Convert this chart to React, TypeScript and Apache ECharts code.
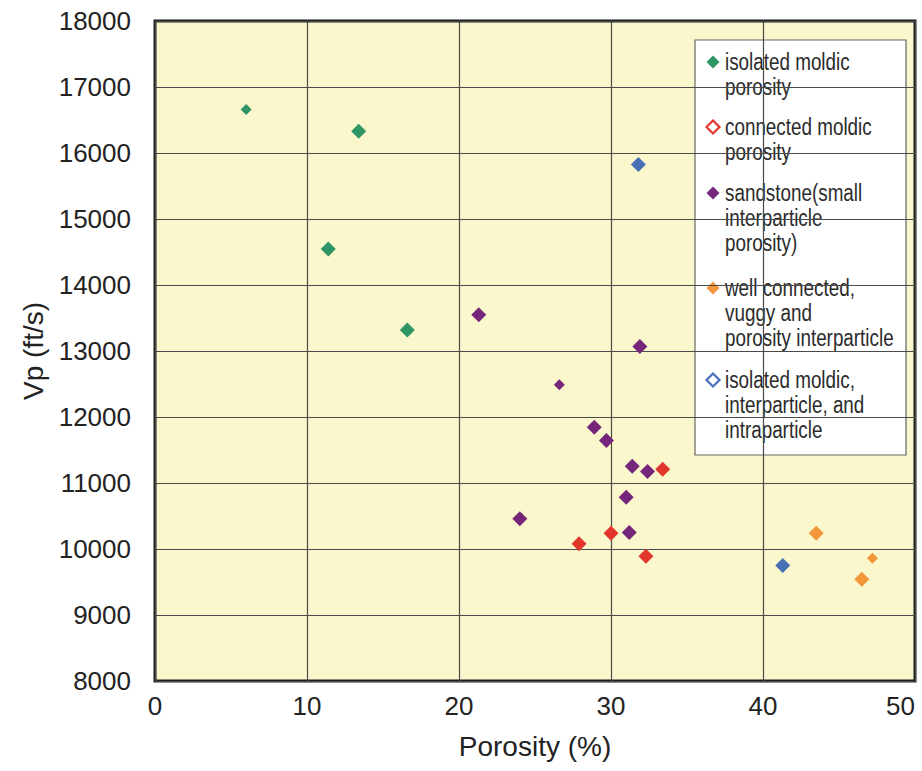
import React, { useEffect, useRef } from "react";
import * as echarts from "echarts";

const seriesNames = [
  "isolated moldic\nporosity",
  "connected moldic\nporosity",
  "sandstone(small\ninterparticle\nporosity)",
  "well connected,\nvuggy and\nporosity interparticle",
  "isolated moldic,\ninterparticle, and\nintraparticle",
];

const isolatedMoldic = [[6.0, 16660], [13.4, 16330], [11.4, 14545], [16.6, 13320]];
const connectedMoldic = [[33.4, 11210], [30.0, 10240], [27.9, 10080], [32.3, 9890]];
const sandstone = [
  [21.3, 13550], [26.6, 12490], [31.9, 13070], [28.9, 11845], [29.7, 11645],
  [31.4, 11255], [32.4, 11175], [31.0, 10785], [24.0, 10460], [31.2, 10250],
];
const wellConnected = [[43.5, 10240], [47.2, 9860], [46.5, 9540]];
const isolatedMixed = [[31.8, 15825], [41.3, 9750]];

const xTicks = [0, 10, 20, 30, 40, 50];
const yTicks = [8000, 9000, 10000, 11000, 12000, 13000, 14000, 15000, 16000, 17000, 18000];

const colors = ["#2E9565", "#E2362D", "#76267A", "#F2963A", "#4870B6"];
const hollowInLegend = [false, true, false, false, true];
const markerSizes = [
  [11, 15, 15, 15],
  [15, 15, 15, 15],
  [15, 11, 15, 15, 15, 15, 15, 15, 15, 15],
  [15, 11, 15],
  [15, 15],
];
const allData = [isolatedMoldic, connectedMoldic, sandstone, wellConnected, isolatedMixed];

export default function App() {
  const ref = useRef<HTMLDivElement>(null);
  useEffect(() => {
    if (!ref.current) return;
    const chart = echarts.init(ref.current, null, { renderer: "svg" });
    const font = "'Liberation Sans', Arial, Helvetica, sans-serif";

    const lineH = 25;
    const legendFirstLines = [62, 127, 193, 288, 380];
    const legendChildren: any[] = [
      {
        type: "rect",
        shape: { x: 695, y: 40, width: 211, height: 415 },
        style: { fill: "#ffffff", stroke: "#666666", lineWidth: 1.2 },
      },
    ];
    seriesNames.forEach((name, i) => {
      const cy = legendFirstLines[i];
      const cx = 713;
      const r = 6.5;
      legendChildren.push({
        type: "polygon",
        shape: { points: [[cx, cy - r], [cx + r, cy], [cx, cy + r], [cx - r, cy]] },
        style: hollowInLegend[i]
          ? { fill: "#ffffff", stroke: colors[i], lineWidth: 2.2 }
          : { fill: colors[i] },
      });
      legendChildren.push({
        type: "text",
        x: 725,
        y: cy - lineH / 2,
        scaleX: 0.82,
        style: {
          text: name,
          font: `23px ${font}`,
          fill: "#2b2b2b",
          lineHeight: lineH,
          verticalAlign: "top",
          align: "left",
        },
      });
    });

    chart.setOption({
      animation: false,
      backgroundColor: "#ffffff",
      grid: {
        left: 155,
        right: 7,
        top: 21,
        bottom: 90,
        show: true,
        backgroundColor: "#FBF7CD",
        borderColor: "#1e1e1e",
        borderWidth: 3,
      },
      xAxis: {
        type: "value",
        min: xTicks[0],
        max: xTicks[xTicks.length - 1],
        interval: 10,
        name: "Porosity (%)",
        nameLocation: "middle",
        nameGap: 51,
        nameTextStyle: { fontSize: 28, color: "#222", fontFamily: font },
        axisLine: { show: false },
        axisTick: { show: false },
        axisLabel: {
          fontSize: 26,
          color: "#222",
          fontFamily: font,
          margin: 12,
          alignMaxLabel: "right",
          formatter: (v: number) => String(v),
        },
        splitLine: { show: true, lineStyle: { color: "#4a4a4a", width: 1.2 } },
      },
      yAxis: {
        type: "value",
        min: yTicks[0],
        max: yTicks[yTicks.length - 1],
        interval: 1000,
        name: "Vp (ft/s)",
        nameLocation: "middle",
        nameGap: 108,
        nameRotate: 90,
        nameTextStyle: { fontSize: 28, color: "#222", fontFamily: font },
        axisLine: { show: false },
        axisTick: { show: false },
        axisLabel: {
          fontSize: 26,
          color: "#222",
          fontFamily: font,
          margin: 24,
          formatter: (v: number) => String(v),
        },
        splitLine: { show: true, lineStyle: { color: "#4a4a4a", width: 1.2 } },
      },
      series: allData.map((d, i) => ({
        type: "scatter",
        name: seriesNames[i],
        symbol: "diamond",
        symbolSize: (_v: any, p: any) => markerSizes[i][p.dataIndex] ?? 15,
        itemStyle: { color: colors[i], opacity: 1 },
        data: d,
        z: 3,
      })),
      graphic: [{ type: "group", z: 100, children: legendChildren }],
    });
    return () => chart.dispose();
  }, []);
  return (
    <div
      ref={ref}
      style={{ position: "absolute", left: 0, top: 0, width: 922, height: 771 }}
    />
  );
}
